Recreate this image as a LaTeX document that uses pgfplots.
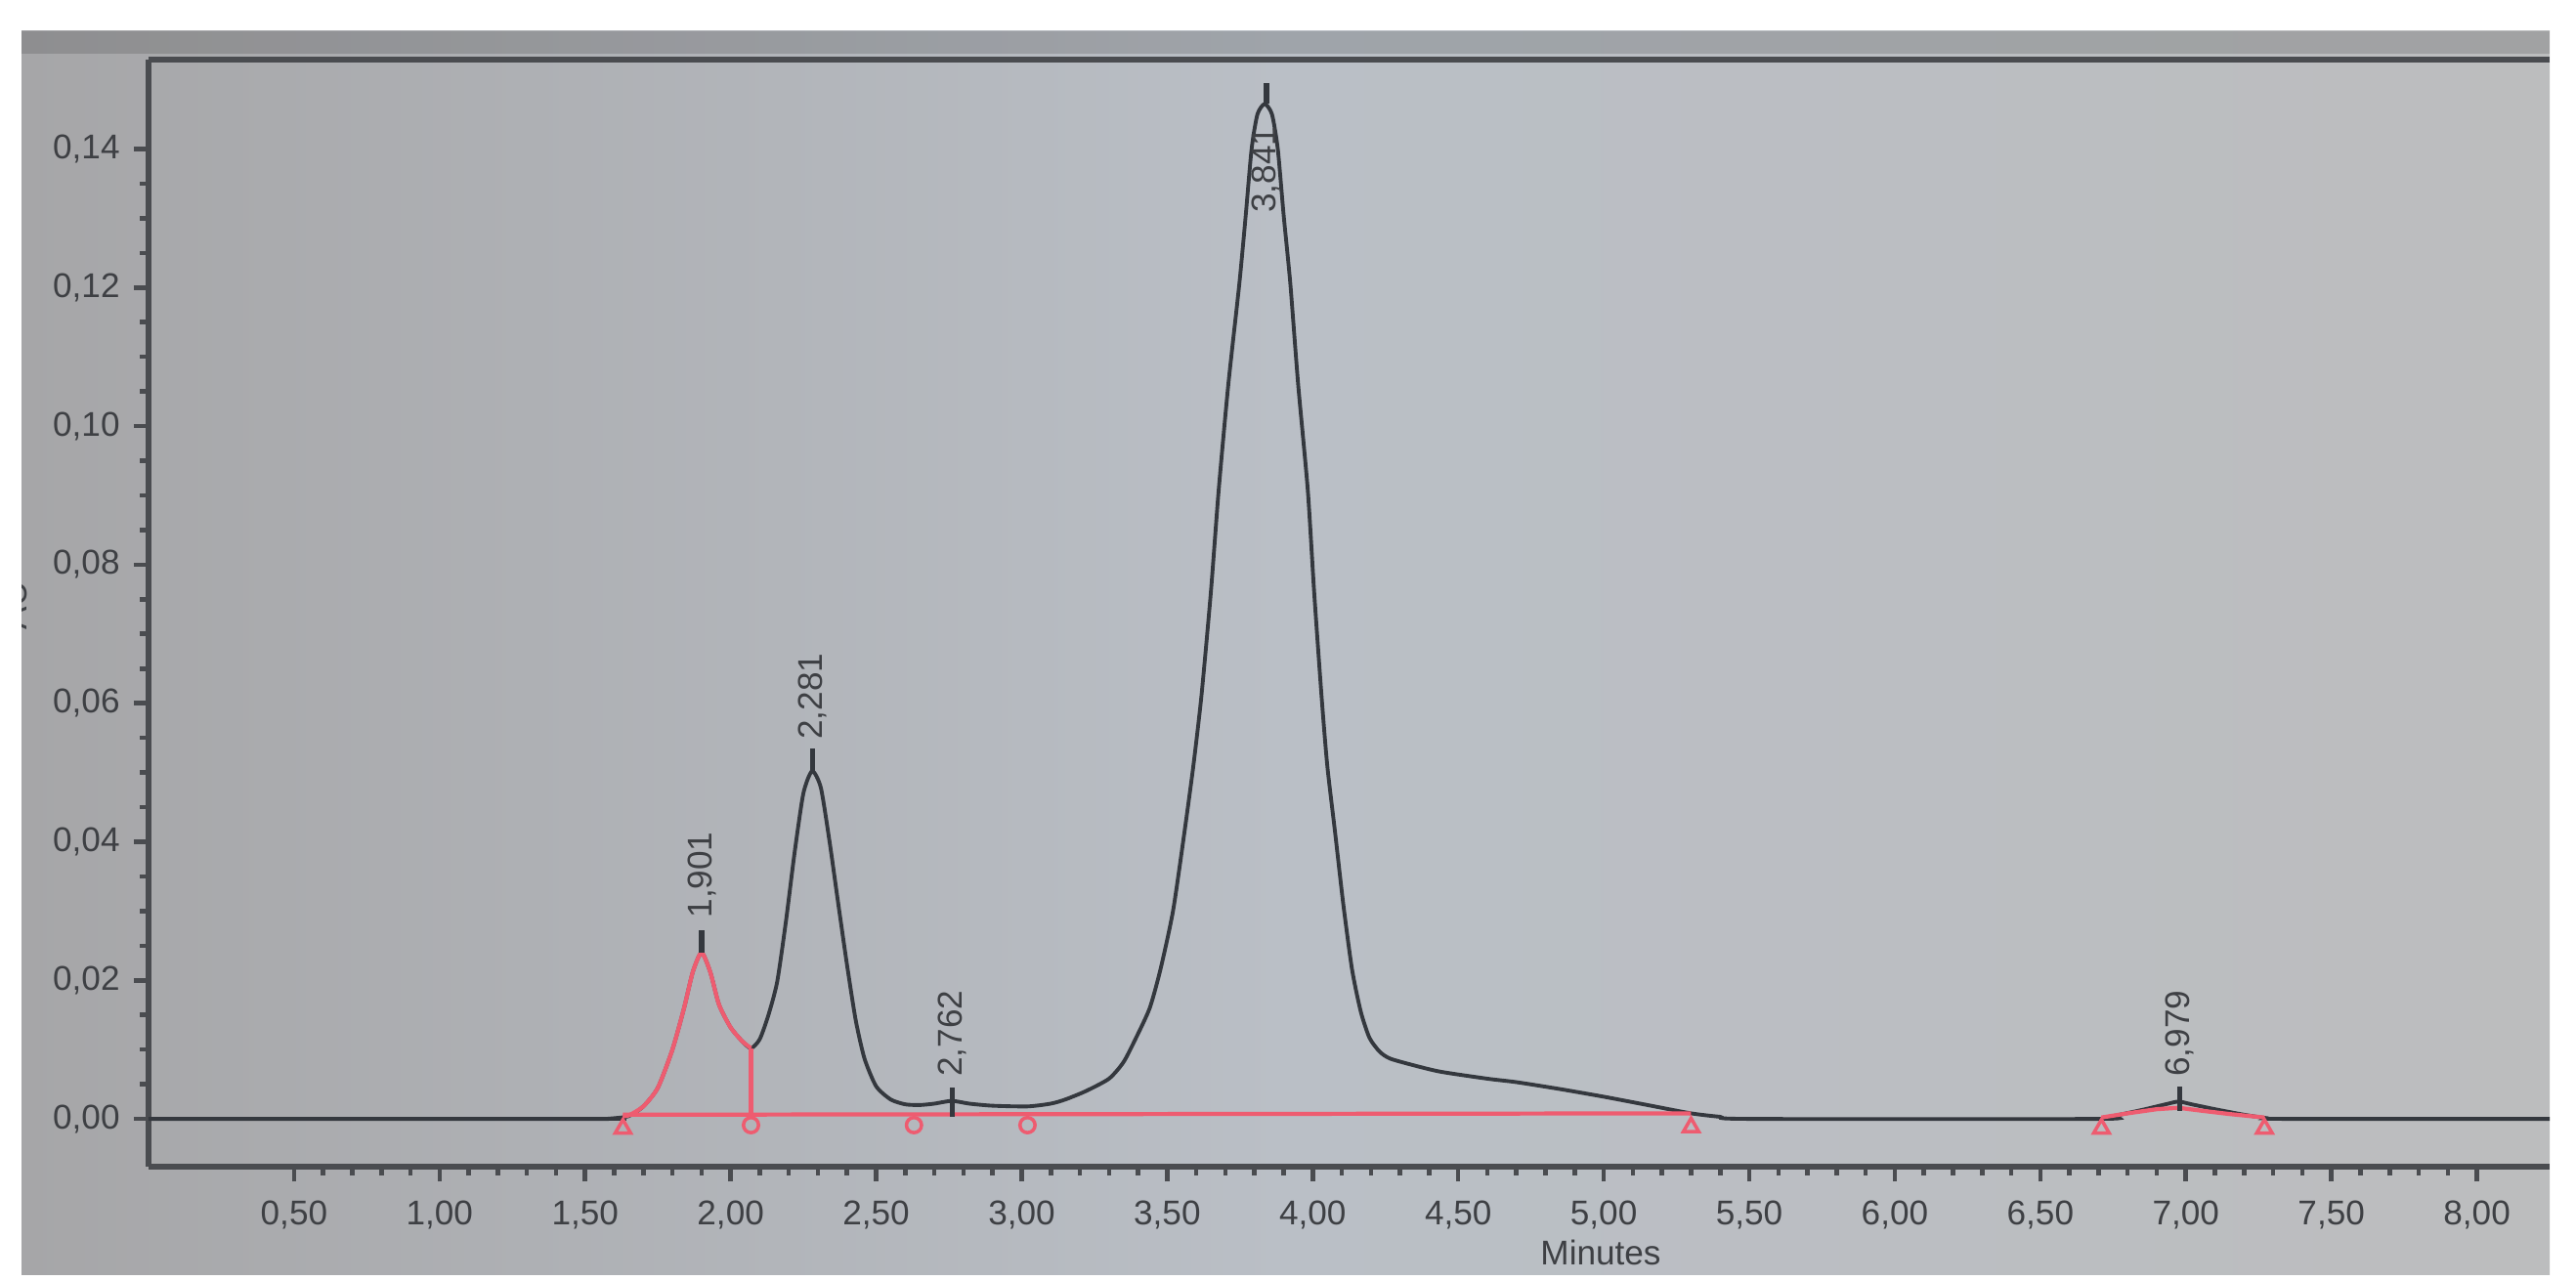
\documentclass[border=0pt]{standalone}
\usepackage{fontspec}
\setmainfont{Liberation Sans}
\usepackage{pgfplots}
\pgfplotsset{compat=1.18}
\definecolor{trace}{RGB}{52,56,62}
\definecolor{redtr}{RGB}{238,92,112}
\definecolor{axgray}{RGB}{74,76,80}
\definecolor{txtgray}{RGB}{62,64,68}
\definecolor{bgL}{RGB}{166,166,168}
\definecolor{bgM}{RGB}{186,191,198}
\definecolor{bgR}{RGB}{188,189,190}
\begin{document}
\begin{tikzpicture}
\useasboundingbox (0,0) rectangle (26.36,13.10);
\fill[white] (0,0) rectangle (26.36,13.10);
\begin{scope}
\clip (0.22,0.06) rectangle (26.09,12.78);
\shade[left color=bgL, right color=bgR, middle color=bgM] (0.22,0.06) rectangle (26.09,12.78);
\fill[black, opacity=0.14] (0.22,12.55) rectangle (26.09,12.78);
\begin{axis}[
  at={(1.52cm,1.16cm)}, anchor=south west,
  scale only axis, width=24.57cm, height=11.33cm,
  xmin=0, xmax=8.25, ymin=-0.0069, ymax=0.1529,
  axis x line=bottom, axis y line=left,
  axis line style={-, line width=1.5pt, color=axgray},
  xtick={0.5,1,...,8}, ytick={0,0.02,...,0.14},
  minor x tick num=4, minor y tick num=3,
  tick align=outside,
  major tick length=0.15cm, minor tick length=0.09cm,
  every tick/.style={axgray, line width=1.3pt},
  tick label style={font=\fontsize{10}{12}\selectfont, text=txtgray},
  /pgf/number format/.cd, fixed, fixed zerofill, precision=2, use comma, assume math mode=true,
  /pgfplots/.cd,
  xticklabel style={yshift=-0.08cm},
  yticklabel style={xshift=-0.02cm},
  clip=false,
]
\draw[axgray, line width=1.8pt] (rel axis cs:0,1) -- (rel axis cs:1,1);
% black trace
\addplot[trace, line width=1.1pt, smooth, tension=0.4] coordinates {
(0,0) (1.55,0) (1.60,0.0001) (1.65,0.0004) (1.70,0.0018) (1.75,0.0045) (1.80,0.0100) (1.84,0.0160) (1.87,0.0212) (1.90,0.0240) (1.93,0.0212) (1.96,0.0165) (2.00,0.0132) (2.04,0.0112) (2.07,0.0102)
(2.10,0.0115) (2.13,0.0150) (2.16,0.0198) (2.19,0.0285) (2.22,0.0385) (2.25,0.0470) (2.28,0.0502) (2.31,0.0478) (2.34,0.0400) (2.37,0.0310) (2.40,0.0222) (2.43,0.0142) (2.46,0.0087) (2.50,0.0047) (2.55,0.0028) (2.60,0.0021) (2.65,0.0020) (2.70,0.0022) (2.76,0.0026) (2.82,0.0022) (2.90,0.0019) (3.02,0.0018)
(3.10,0.0022) (3.15,0.0028) (3.22,0.0040) (3.30,0.0058) (3.35,0.0082) (3.393,0.0117) (3.44,0.0160) (3.477,0.0216) (3.52,0.0300) (3.559,0.0413) (3.59,0.0510) (3.618,0.0612) (3.65,0.0760) (3.677,0.0908) (3.71,0.1060) (3.748,0.1206) (3.77,0.1305) (3.79,0.1400) (3.81,0.1450) (3.835,0.1465) (3.86,0.1450) (3.88,0.1400) (3.90,0.1305) (3.923,0.1206) (3.95,0.1060) (3.983,0.0908) (4.005,0.0760) (4.03,0.0612) (4.05,0.0510) (4.077,0.0413) (4.105,0.0310) (4.135,0.0216) (4.165,0.0155) (4.195,0.0117) (4.23,0.0097) (4.266,0.0087) (4.35,0.0077) (4.44,0.0068) (4.60,0.0058) (4.70,0.0053) (4.85,0.0043) (5.00,0.0032) (5.15,0.0020) (5.30,0.0008) (5.40,0.0003) (5.50,0.0000)
(6.70,0.0000) (6.75,0.0004) (6.85,0.0013) (6.93,0.0021) (6.975,0.0025) (7.02,0.0021) (7.10,0.0014) (7.20,0.0006) (7.28,0.0001) (7.35,0.0000) (8.25,0.0000)
};
% red integrated peak 1.901
\addplot[redtr, line width=1.2pt, smooth, tension=0.4] coordinates {
(1.63,0.0004) (1.65,0.0005) (1.70,0.0018) (1.75,0.0045) (1.80,0.0100) (1.84,0.0160) (1.87,0.0212) (1.90,0.0240) (1.93,0.0212) (1.96,0.0165) (2.00,0.0132) (2.04,0.0112) (2.07,0.0102)
};
\addplot[redtr, line width=1.2pt] coordinates {(2.07,0.0102) (2.07,0.0007)};
% red baseline
\addplot[redtr, line width=1.2pt] coordinates {(1.63,0.0006) (5.30,0.0008)};
% red small peak
\addplot[redtr, line width=1.2pt] coordinates {(6.71,0.0002) (6.80,0.0008) (6.90,0.0014) (6.975,0.0016) (7.05,0.0012) (7.15,0.0007) (7.27,0.0002)};
% integration markers
\addplot[only marks, mark=triangle, mark size=2.6pt, redtr, line width=1pt] coordinates {(1.63,-0.0014) (5.30,-0.0012) (6.71,-0.0014) (7.27,-0.0014)};
\addplot[only marks, mark=o, mark size=2.2pt, redtr, line width=1pt] coordinates {(2.07,-0.0009) (2.63,-0.0009) (3.02,-0.0009)};
% apex ticks
\addplot[trace, line width=1.6pt, unbounded coords=jump] coordinates {
(1.901,0.0240) (1.901,0.0272) (nan,nan)
(2.281,0.0502) (2.281,0.0535) (nan,nan)
(2.762,0.0003) (2.762,0.0045) (nan,nan)
(3.841,0.1465) (3.841,0.1495) (nan,nan)
(6.979,0.0012) (6.979,0.0046)
};
\begin{scope}[every node/.style={font=\fontsize{10}{12}\selectfont, text=txtgray, inner sep=0pt, rotate=90}]
\node[anchor=west] at (axis cs:1.901,0.0289) {1,901};
\node[anchor=west] at (axis cs:2.281,0.0547) {2,281};
\node[anchor=west] at (axis cs:2.762,0.0060) {2,762};
\node[anchor=center] at (axis cs:3.841,0.1370) {3,841};
\node[anchor=west] at (axis cs:6.979,0.0060) {6,979};
\end{scope}
\end{axis}
\node[anchor=north, inner sep=0pt, font=\fontsize{10}{12}\selectfont, text=txtgray] at (16.38,0.42) {Minutes};
\node[rotate=90, font=\fontsize{10}{12}\selectfont, text=txtgray] at (0.16,6.9) {AU};
\end{scope}
\end{tikzpicture}
\end{document}
